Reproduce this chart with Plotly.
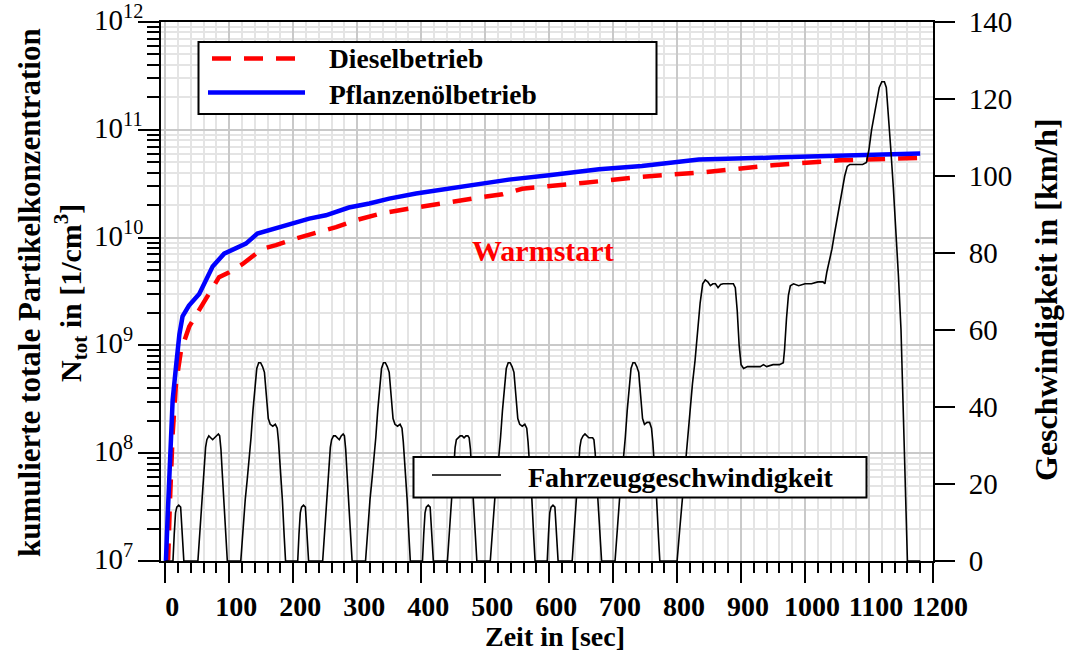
import plotly.graph_objects as go

# ---------------- data ----------------
# cumulative total particle concentration, vegetable oil operation
t_oel = [0, 1, 3.6, 7.3, 11.5, 16.7, 22, 27, 37, 53, 74, 92, 116, 126, 144, 162, 199, 225,
         251, 287, 319, 350, 392, 444, 480, 537, 600, 678, 745, 834, 949, 1053, 1180]
n_oel = [1.0e7, 1.0e7, 2.5e7, 1.05e8, 3.1e8, 6.3e8, 1.26e9, 1.86e9, 2.34e9, 3.0e9, 5.4e9,
         7.1e9, 8.2e9, 8.8e9, 1.09e10, 1.17e10, 1.35e10, 1.5e10, 1.61e10, 1.9e10, 2.07e10,
         2.3e10, 2.56e10, 2.85e10, 3.12e10, 3.45e10, 3.78e10, 4.3e10, 4.62e10, 5.3e10,
         5.52e10, 5.71e10, 6.03e10]

# cumulative total particle concentration, diesel operation
t_diesel = [0, 4.5, 7.3, 11.5, 16.7, 22, 24.5, 37.5, 58, 84, 100, 121, 152, 173, 204, 241,
            267, 298, 340, 392, 444, 496, 527, 558, 652, 745, 845, 949, 1053, 1180]
n_diesel = [1.0e7, 1.05e7, 3.6e7, 1.5e8, 4.4e8, 7.2e8, 8.9e8, 1.5e9, 2.43e9, 4.3e9, 4.78e9,
            5.7e9, 7.9e9, 8.5e9, 9.8e9, 1.12e10, 1.25e10, 1.45e10, 1.69e10, 1.9e10, 2.14e10,
            2.38e10, 2.52e10, 2.84e10, 3.21e10, 3.66e10, 4.06e10, 4.69e10, 5.21e10, 5.48e10]

# vehicle speed (km/h)
t_speed = [
    0, 12, 14, 16, 18, 21, 24, 26, 29,
    51, 54, 57, 60, 63, 65, 68, 71, 74, 77, 80, 83, 85, 87, 89, 92, 95, 97,
    118, 121, 125, 128, 131, 134, 137, 140, 143, 146, 149, 152, 155, 158, 161, 164, 168,
    172, 175, 177, 180, 183, 186, 188, 195,
    207, 209, 211, 213, 216, 219, 221, 224,
    246, 249, 252, 255, 258, 260, 263, 266, 269, 272, 275, 278, 280, 282, 284, 287, 290, 292,
    313, 316, 320, 323, 326, 329, 332, 335, 338, 341, 344, 347, 350, 353, 356, 359, 363,
    367, 370, 372, 375, 378, 381, 383, 390,
    402, 404, 406, 408, 411, 414, 416, 419,
    441, 444, 447, 450, 453, 455, 458, 461, 464, 467, 470, 473, 475, 477, 479, 482, 485, 487,
    508, 511, 515, 518, 521, 524, 527, 530, 533, 536, 539, 542, 545, 548, 551, 554, 558,
    562, 565, 567, 570, 573, 576, 578, 585,
    597, 599, 601, 603, 606, 609, 611, 614,
    636, 639, 642, 645, 648, 650, 653, 656, 659, 662, 665, 668, 670, 672, 674, 677, 680, 682,
    703, 706, 710, 713, 716, 719, 722, 725, 728, 731, 734, 737, 740, 743, 746, 749, 753,
    757, 760, 762, 765, 768, 771, 773, 780,
    800, 804, 808, 812, 816, 820, 824, 828, 832, 836, 840, 844, 848, 852, 856, 860, 864, 868,
    872, 880, 888, 891, 894, 897, 900, 904, 910, 920, 930, 935, 940, 950, 960, 966, 968, 971,
    974, 977, 982, 990, 1000, 1010, 1020, 1028, 1031, 1034, 1038, 1042, 1046, 1050, 1054,
    1058, 1062, 1066, 1070, 1080, 1090, 1096, 1100, 1104, 1108, 1112, 1116, 1120, 1124, 1127,
    1130, 1134, 1138, 1142, 1146, 1150, 1154, 1158, 1160, 1180]
v_speed = [
    0, 0, 7, 12.5, 14, 14.5, 14, 9, 0,
    0, 8, 15, 22, 29.5, 31.5, 32.5, 32, 31.5, 32, 32.5, 33, 32.5, 29, 23, 13, 5, 0,
    0, 8, 16, 21, 26, 32, 39, 45, 50, 51.5, 51.5, 50.5, 49, 43, 37, 35.5, 35,
    35.5, 34.5, 31, 24, 16, 6, 0, 0,
    0, 7, 12.5, 14, 14.5, 14, 9, 0,
    0, 8, 15, 22, 29.5, 31.5, 32.5, 32.5, 32, 31.5, 32.5, 33, 32.5, 29, 23, 13, 5, 0,
    0, 8, 16, 21, 26, 32, 39, 45, 50, 51.5, 51.5, 50.5, 49, 43, 37, 35.5, 35,
    35.5, 34.5, 31, 24, 16, 6, 0, 0,
    0, 7, 12.5, 14, 14.5, 14, 9, 0,
    0, 8, 15, 22, 29.5, 31.5, 32, 32.5, 32.5, 32, 32.5, 32.5, 32, 29, 23, 13, 5, 0,
    0, 8, 16, 21, 26, 32, 39, 45, 50, 51.5, 51.5, 50.5, 49, 43, 37, 35.5, 35,
    35.5, 34.5, 31, 24, 16, 6, 0, 0,
    0, 7, 12.5, 14, 14.5, 14, 9, 0,
    0, 8, 15, 22, 29.5, 31.5, 32.5, 33, 32.5, 32, 32, 32, 31.5, 28, 22, 13, 5, 0,
    0, 8, 16, 21, 26, 32, 39, 45, 50, 51.5, 51.5, 50.5, 49, 43, 37, 35.5, 36,
    36, 34.5, 31, 24, 16, 6, 0, 0,
    0, 8, 16, 24, 32, 39, 46, 52, 60, 67, 72, 73, 72.5, 71.5, 72, 72, 71, 71.8,
    72, 72, 72, 71, 65, 56, 51, 50, 50.5, 50.5, 50.5, 51, 50.5, 51, 51, 51.5, 55, 63,
    69, 71.5, 72, 71.5, 72, 72, 72.5, 72.5, 72, 75, 78, 81, 85, 89, 93,
    97, 100, 102.5, 103, 103, 103, 103.5, 107, 112, 116, 120, 123, 124.5, 124.5, 123,
    117, 107, 97, 86, 74, 60, 38, 12, 0, 0]

x_ticks = [0, 100, 200, 300, 400, 500, 600, 700, 800, 900, 1000, 1100, 1200]
speed_ticks = [0, 20, 40, 60, 80, 100, 120, 140]
n_tick_exponents = [7, 8, 9, 10, 11, 12]

# ---------------- layout geometry ----------------
W, H = 1067, 657
ML, MR, MT, MB = 161, 134, 22, 96
PW, PH = W - ML - MR, H - MT - MB


def px(x):
    return (x - ML) / PW


def py(y):
    return (MT + PH - y) / PH


FONT = "Liberation Serif"
RED = "#ff0000"
BLUE = "#0000ff"

fig = go.Figure()

fig.add_trace(go.Scatter(x=t_diesel, y=n_diesel, mode="lines", name="Dieselbetrieb",
                         line=dict(color=RED, width=4.5, dash="19px,13px"),
                         yaxis="y", showlegend=False))
fig.add_trace(go.Scatter(x=t_oel, y=n_oel, mode="lines", name="Pflanzenölbetrieb",
                         line=dict(color=BLUE, width=4.5),
                         yaxis="y", showlegend=False))
fig.add_trace(go.Scatter(x=t_speed, y=v_speed, mode="lines", name="Fahrzeuggeschwindigkeit",
                         line=dict(color="black", width=1.6),
                         yaxis="y2", showlegend=False))

fig.update_layout(
    template="none",
    width=W, height=H,
    margin=dict(l=ML, r=MR, t=MT, b=MB, pad=0),
    paper_bgcolor="white", plot_bgcolor="white",
    font=dict(family=FONT, color="black"),
    xaxis=dict(
        range=[-6.7, 1200], tickvals=x_ticks, ticktext=[str(v) for v in x_ticks],
        showline=True, linecolor="black", linewidth=2, mirror=True,
        ticks="outside", ticklen=20, tickwidth=2, tickcolor="black",
        showgrid=True, gridcolor="#c9c9c9", gridwidth=1.5, zeroline=False,
        minor=dict(dtick=20, tick0=0, ticks="outside", ticklen=10, tickwidth=2,
                   tickcolor="black", showgrid=True, gridcolor="#e4e4e4", gridwidth=1.5),
        tickfont=dict(family=FONT, size=28, weight="bold"),
        ticklabelshift=7, ticklabelstandoff=-1, ticklabeloverflow="allow",
    ),
    yaxis=dict(
        type="log", range=[7, 12], dtick=1, showticklabels=False,
        showline=True, linecolor="black", linewidth=2,
        ticks="outside", ticklen=21, tickwidth=2, tickcolor="black",
        showgrid=True, gridcolor="#c9c9c9", gridwidth=1.5, zeroline=False,
        minor=dict(dtick="D1", ticks="outside", ticklen=12, tickwidth=2,
                   tickcolor="black", showgrid=True, gridcolor="#e4e4e4", gridwidth=1.5),
    ),
    yaxis2=dict(
        overlaying="y", side="right", range=[0, 140], tickvals=speed_ticks,
        showline=True, linecolor="black", linewidth=2,
        ticks="outside", ticklen=20, tickwidth=2, tickcolor="black",
        showgrid=False, zeroline=False,
        tickfont=dict(family=FONT, size=29),
        ticklabelstandoff=8, ticklabeloverflow="allow",
    ),
)

shapes = []
annotations = []

# left axis tick labels (left aligned, as in the reference)
for e in n_tick_exponents:
    annotations.append(dict(text=f"10<sup>{e}</sup>", xref="paper", yref="y",
                            x=px(92), y=e, xanchor="left", yanchor="middle",
                            yshift=4, showarrow=False,
                            font=dict(family=FONT, size=29)))

# legend 1 (top)
shapes.append(dict(type="rect", xref="paper", yref="paper",
                   x0=px(198.5), x1=px(656.5), y0=py(114), y1=py(42),
                   line=dict(color="black", width=2), fillcolor="white", layer="above"))
shapes.append(dict(type="line", xref="paper", yref="paper",
                   x0=px(212), x1=px(297), y0=py(58.5), y1=py(58.5),
                   line=dict(color=RED, width=4.5, dash="19px,13px"), layer="above"))
shapes.append(dict(type="line", xref="paper", yref="paper",
                   x0=px(208), x1=px(305), y0=py(92.5), y1=py(92.5),
                   line=dict(color=BLUE, width=4.5), layer="above"))
annotations.append(dict(text="Dieselbetrieb", xref="paper", yref="paper",
                        x=px(327), y=py(58), xanchor="left", yanchor="middle", showarrow=False,
                        font=dict(family=FONT, size=27.5, weight="bold")))
annotations.append(dict(text="Pflanzenölbetrieb", xref="paper", yref="paper",
                        x=px(327), y=py(94), xanchor="left", yanchor="middle", showarrow=False,
                        font=dict(family=FONT, size=27.5, weight="bold")))

# legend 2 (speed)
shapes.append(dict(type="rect", xref="paper", yref="paper",
                   x0=px(413.5), x1=px(866.5), y0=py(497.5), y1=py(457),
                   line=dict(color="black", width=2), fillcolor="white", layer="above"))
shapes.append(dict(type="line", xref="paper", yref="paper",
                   x0=px(432), x1=px(501), y0=py(475), y1=py(475),
                   line=dict(color="black", width=1.6), layer="above"))
annotations.append(dict(text="Fahrzeuggeschwindigkeit", xref="paper", yref="paper",
                        x=px(526), y=py(477), xanchor="left", yanchor="middle", showarrow=False,
                        font=dict(family=FONT, size=28, weight="bold")))

# Warmstart label
annotations.append(dict(text="Warmstart", xref="paper", yref="paper",
                        x=px(542.5), y=py(250), xanchor="center", yanchor="middle",
                        showarrow=False, font=dict(family=FONT, size=30, weight="bold", color=RED)))

# axis titles
annotations.append(dict(text="kumulierte totale Partikelkonzentration", xref="paper", yref="paper",
                        x=px(29), y=py(293), xanchor="center", yanchor="middle", textangle=-90,
                        showarrow=False, font=dict(family=FONT, size=31, weight="bold")))
annotations.append(dict(text="N<sub>tot</sub> in [1/cm<sup>3</sup>]", xref="paper", yref="paper",
                        x=px(70), y=py(293), xanchor="center", yanchor="middle", textangle=-90,
                        showarrow=False, font=dict(family=FONT, size=30, weight="bold")))
annotations.append(dict(text="Geschwindigkeit in [km/h]", xref="paper", yref="paper",
                        x=px(1046), y=py(300), xanchor="center", yanchor="middle", textangle=-90,
                        showarrow=False, font=dict(family=FONT, size=32, weight="bold")))
annotations.append(dict(text="Zeit in [sec]", xref="paper", yref="paper",
                        x=px(555), y=py(636), xanchor="center", yanchor="middle",
                        showarrow=False, font=dict(family=FONT, size=28, weight="bold")))

fig.update_layout(shapes=shapes, annotations=annotations)

fig.write_html("out.html")
